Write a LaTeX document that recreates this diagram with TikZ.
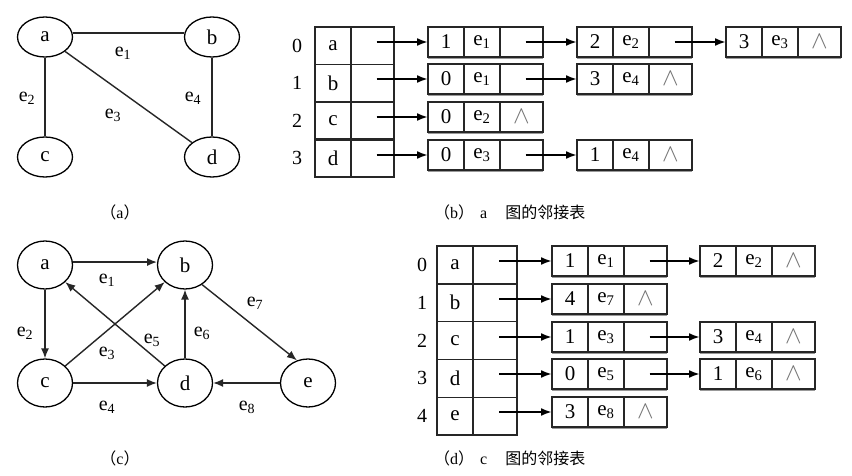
\documentclass[tikz,border=0pt]{standalone}
\usepackage{fontspec}
\setmainfont{Liberation Serif}
\newfontfamily\cjk{Noto Sans CJK SC}
\usetikzlibrary{shapes.geometric,arrows.meta,calc}
\newcommand\eL[1]{e\textsubscript{#1}}
\newcommand\lnil{{\color{black!55}\fontsize{26}{26}\selectfont$\wedge$}}
\newcommand\lbox[6]{%
  \node[cell] (#1a) at (#2,#3) {#4};
  \node[cell] (#1b) at (#1a.north east) {#5};
  \node[cell, minimum width=43pt] (#1c) at (#1b.north east) {#6};
  \draw[shade line] ([yshift=-1.6pt]#1a.south west) -- ([yshift=-1.6pt]#1c.south east);
  \draw[line width=2.4pt, black!85] (#1a.south west) -- (#1a.north west);
}
\tikzset{
  vtx/.style={ellipse, draw, line width=1.3pt, minimum width=55pt, minimum height=40pt,
    inner sep=0pt, font=\fontsize{21}{21}\selectfont},
  vtxc/.style={vtx, minimum height=48pt},
  edge/.style={line width=1.4pt, black!85},
  darr/.style={edge, -{Latex[length=10pt,width=8pt]}},
  tarr/.style={line width=2pt, black, -{Latex[length=11pt,width=8pt]}},
  lbl/.style={font=\fontsize{20}{20}\selectfont, inner sep=0pt},
  cell/.style={draw, line width=1.6pt, black!85, text=black, minimum width=36pt, minimum height=30pt,
    inner sep=0pt, outer sep=0pt, anchor=north west, font=\fontsize{21}{21}\selectfont},
  tcell/.style={cell, line width=1.4pt},
  shade line/.style={line width=1.4pt, black!40},
  idx/.style={font=\fontsize{20}{20}\selectfont, inner sep=0pt},
  capt/.style={font=\fontsize{16}{16}\selectfont, inner sep=0pt},
}
\begin{document}
\begin{tikzpicture}[x=1pt,y=-1pt]
\fill[white] (0,0) rectangle (852,476);
\useasboundingbox (0,0) rectangle (852,476);

% ---------- graph (a)
\node[vtx] (aa) at (45,37) {a};
\node[vtx] (ab) at (212,37) {b};
\node[vtx] (ac) at (45,157) {c};
\node[vtx] (ad) at (212,157) {d};
\draw[edge] (aa.8) -- (ab.172);
\draw[edge] (aa) -- (ac);
\draw[edge] (ab) -- (ad);
\draw[edge] (aa) -- (ad);
\node[lbl] at (123,53) {\eL{1}};
\node[lbl] at (27,98) {\eL{2}};
\node[lbl] at (113,115) {\eL{3}};
\node[lbl] at (193,98) {\eL{4}};
\node[capt] (capa) at (120,212) {{\cjk （}a{\cjk ）}};

% ---------- table (b)
\foreach \i/\v in {0/a,1/b,2/c,3/d}{
  \node[idx] at (297,{27+37.5*\i+18.75}) {\i};
  \node[tcell, minimum height=37.5pt] (TA\i) at (315,{27+37.5*\i}) {\v};
  \node[tcell, minimum height=37.5pt, minimum width=43pt] (TP\i) at (TA\i.north east) {};
}
\draw[line width=2.6pt, black!85] (TA3.north west) -- (TP3.north east);
\lbox{Ba}{428}{27}{1}{\eL{1}}{}
\lbox{Bb}{577}{27}{2}{\eL{2}}{}
\lbox{Bc}{726}{27}{3}{\eL{3}}{\lnil}
\lbox{Bd}{428}{64}{0}{\eL{1}}{}
\lbox{Be}{577}{64}{3}{\eL{4}}{\lnil}
\lbox{Bf}{428}{102}{0}{\eL{2}}{\lnil}
\lbox{Bg}{428}{140}{0}{\eL{3}}{}
\lbox{Bh}{577}{140}{1}{\eL{4}}{\lnil}
\draw[tarr] ([xshift=4pt]TP0.center |- Baa.west) -- (Baa.west);
\draw[tarr] ([xshift=4pt]TP1.center |- Bda.west) -- (Bda.west);
\draw[tarr] ([xshift=4pt]TP2.center |- Bfa.west) -- (Bfa.west);
\draw[tarr] ([xshift=4pt]TP3.center |- Bga.west) -- (Bga.west);
\draw[tarr] ([xshift=4pt]Bac.center) -- (Bba.west);
\draw[tarr] ([xshift=4pt]Bbc.center) -- (Bca.west);
\draw[tarr] ([xshift=4pt]Bdc.center) -- (Bea.west);
\draw[tarr] ([xshift=4pt]Bgc.center) -- (Bha.west);
\node[capt, anchor=west] (capb) at (434,212) {{\cjk （}b{\cjk ）}\hspace{6pt}a\hspace{18pt}{\cjk 图的邻接表}};

% ---------- graph (c)
\node[vtxc] (ca) at (45,265) {a};
\node[vtxc] (cb) at (185,265) {b};
\node[vtxc] (cc) at (45,383) {c};
\node[vtxc] (cd) at (185,383) {d};
\node[vtxc] (ce) at (308,383) {e};
\draw[darr, line width=1.6pt] (ca.6) -- (cb.174);
\draw[darr] (ca) -- (cc);
\draw[darr] (cc) -- (cb);
\draw[darr] (cd) -- (ca);
\draw[darr] (cd) -- (cb);
\draw[darr] (cb.-49) -- (ce.116);
\draw[darr] (cc) -- (cd);
\draw[darr] (ce) -- (cd);
\node[lbl] at (107,280) {\eL{1}};
\node[lbl] at (25,333) {\eL{2}};
\node[lbl] at (107,353) {\eL{3}};
\node[lbl] at (152,340) {\eL{5}};
\node[lbl] at (202,333) {\eL{6}};
\node[lbl] at (255,303) {\eL{7}};
\node[lbl] at (107,407) {\eL{4}};
\node[lbl] at (247,407) {\eL{8}};
\node[capt] (capc) at (120,458) {{\cjk （}c{\cjk ）}};

% ---------- table (d)
\foreach \i/\v in {0/a,1/b,2/c,3/d,4/e}{
  \node[idx] at (422,{246+37.8*\i+18.9}) {\i};
  \node[tcell, minimum height=37.8pt] (DA\i) at (437,{246+37.8*\i}) {\v};
  \node[tcell, minimum height=37.8pt, minimum width=44pt] (DP\i) at (DA\i.north east) {};
}
\lbox{Da}{552}{246}{1}{\eL{1}}{}
\lbox{Db}{700}{246}{2}{\eL{2}}{\lnil}
\lbox{Dc}{552}{284}{4}{\eL{7}}{\lnil}
\lbox{Dd}{552}{322}{1}{\eL{3}}{}
\lbox{De}{700}{322}{3}{\eL{4}}{\lnil}
\lbox{Df}{552}{359}{0}{\eL{5}}{}
\lbox{Dg}{700}{359}{1}{\eL{6}}{\lnil}
\lbox{Dh}{552}{397}{3}{\eL{8}}{\lnil}
\draw[tarr] ([xshift=4pt]DP0.center |- Daa.west) -- (Daa.west);
\draw[tarr] ([xshift=4pt]DP1.center |- Dca.west) -- (Dca.west);
\draw[tarr] ([xshift=4pt]DP2.center |- Dda.west) -- (Dda.west);
\draw[tarr] ([xshift=4pt]DP3.center |- Dfa.west) -- (Dfa.west);
\draw[tarr] ([xshift=4pt]DP4.center |- Dha.west) -- (Dha.west);
\draw[tarr] ([xshift=4pt]Dac.center) -- (Dba.west);
\draw[tarr] ([xshift=4pt]Ddc.center) -- (Dea.west);
\draw[tarr] ([xshift=4pt]Dfc.center) -- (Dga.west);
\node[capt, anchor=west] (capd) at (434,458) {{\cjk （}d{\cjk ）}\hspace{6pt}c\hspace{18pt}{\cjk 图的邻接表}};
\end{tikzpicture}
\end{document}
